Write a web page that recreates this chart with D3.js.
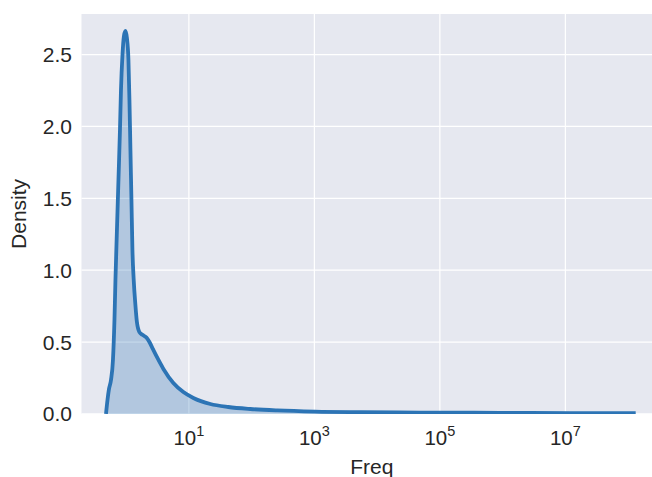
<!DOCTYPE html>
<html>
<head>
<meta charset="utf-8">
<script src="https://cdn.jsdelivr.net/npm/d3@7"></script>
<style>
  html, body { margin: 0; padding: 0; background: #ffffff; }
  svg { display: block; }
  text { font-family: "Liberation Sans", Arial, Helvetica, sans-serif; fill: #262626; }
</style>
</head>
<body>
<svg id="chart" width="652" height="477"></svg>
<script>
// Kernel density estimate of Freq (density measured on a log10 axis)
const freq = [0.478, 0.505, 0.533, 0.574, 0.617, 0.652, 0.676, 0.714, 0.755, 0.798,
  0.828, 0.875, 0.923, 0.976, 1.03, 1.089, 1.13, 1.172, 1.216, 1.261,
  1.322, 1.406, 1.486, 1.629, 1.818, 2.107, 2.352, 2.625, 3.153, 3.93,
  5.66, 8.17, 11.8, 22.0, 42.5, 95.2, 256, 1030, 5370, 48400,
  908000, 1.18e7, 1.32e8];
const density = [0.0, 0.097, 0.172, 0.236, 0.375, 0.653, 0.931, 1.279, 1.627, 1.976,
  2.253, 2.497, 2.629, 2.664, 2.615, 2.462, 2.184, 1.835, 1.488, 1.140,
  0.931, 0.758, 0.639, 0.569, 0.550, 0.531, 0.500, 0.458, 0.389, 0.313,
  0.215, 0.152, 0.111, 0.069, 0.048, 0.034, 0.024, 0.016, 0.012, 0.009,
  0.0075, 0.006, 0.005];

const xTicks = [1e1, 1e3, 1e5, 1e7];
const xTickExp = ["1", "3", "5", "7"];
const yTicks = [0.0, 0.5, 1.0, 1.5, 2.0, 2.5];

const points = freq.map((f, i) => ({ f, d: density[i] }));

const svg = d3.select("#chart");
const plot = { left: 81.5, right: 662, top: 14, bottom: 413.9 };

const x = d3.scaleLog()
  .domain([Math.pow(10, -0.711), Math.pow(10, 8.54)])
  .range([plot.left, plot.right]);
const y = d3.scaleLinear()
  .domain([0, 2.782])
  .range([plot.bottom, plot.top]);

// axes background
svg.append("rect")
  .attr("x", plot.left).attr("y", plot.top)
  .attr("width", plot.right - plot.left).attr("height", plot.bottom - plot.top)
  .attr("fill", "#e6e8f0");

svg.append("clipPath").attr("id", "plotClip")
  .append("rect")
  .attr("x", plot.left).attr("y", plot.top)
  .attr("width", plot.right - plot.left).attr("height", plot.bottom - plot.top);

// grid
const grid = svg.append("g");
grid.selectAll("line.gx").data(xTicks).join("line")
  .attr("x1", d => x(d)).attr("x2", d => x(d))
  .attr("y1", plot.top).attr("y2", plot.bottom)
  .attr("stroke", "#ffffff").attr("stroke-width", 1.2);
grid.selectAll("line.gy").data(yTicks).join("line")
  .attr("x1", plot.left).attr("x2", plot.right)
  .attr("y1", d => y(d)).attr("y2", d => y(d))
  .attr("stroke", "#ffffff").attr("stroke-width", 1.2);

const g = svg.append("g").attr("clip-path", "url(#plotClip)");

const area = d3.area()
  .x(p => x(p.f)).y0(y(0)).y1(p => y(p.d))
  .curve(d3.curveMonotoneX);
const line = d3.line()
  .x(p => x(p.f)).y(p => y(p.d))
  .curve(d3.curveMonotoneX);

g.append("path").datum(points)
  .attr("d", area)
  .attr("fill", "#2c74b5").attr("fill-opacity", 0.28);
g.append("path").datum(points)
  .attr("d", line)
  .attr("fill", "none")
  .attr("stroke", "#2c74b5").attr("stroke-width", 3.8)
  .attr("stroke-linejoin", "round").attr("stroke-linecap", "butt");

// y tick labels
svg.append("g").selectAll("text").data(yTicks).join("text")
  .attr("x", 72).attr("y", d => y(d))
  .attr("dy", "0.36em")
  .attr("text-anchor", "end")
  .attr("font-size", 21)
  .text(d => d3.format(".1f")(d));

// x tick labels as powers of ten
const xl = svg.append("g").selectAll("text").data(xTicks).join("text")
  .attr("x", d => x(d)).attr("y", 445)
  .attr("text-anchor", "middle")
  .attr("font-size", 20.5);
xl.append("tspan").text("10");
xl.append("tspan")
  .attr("dy", -9).attr("font-size", 14.5)
  .text((d, i) => xTickExp[i]);

// axis titles
svg.append("text")
  .attr("x", (plot.left + plot.right) / 2).attr("y", 474)
  .attr("text-anchor", "middle").attr("font-size", 21)
  .text("Freq");
svg.append("text")
  .attr("transform", `translate(26,${(plot.top + plot.bottom) / 2}) rotate(-90)`)
  .attr("text-anchor", "middle").attr("font-size", 21)
  .text("Density");
</script>
</body>
</html>
